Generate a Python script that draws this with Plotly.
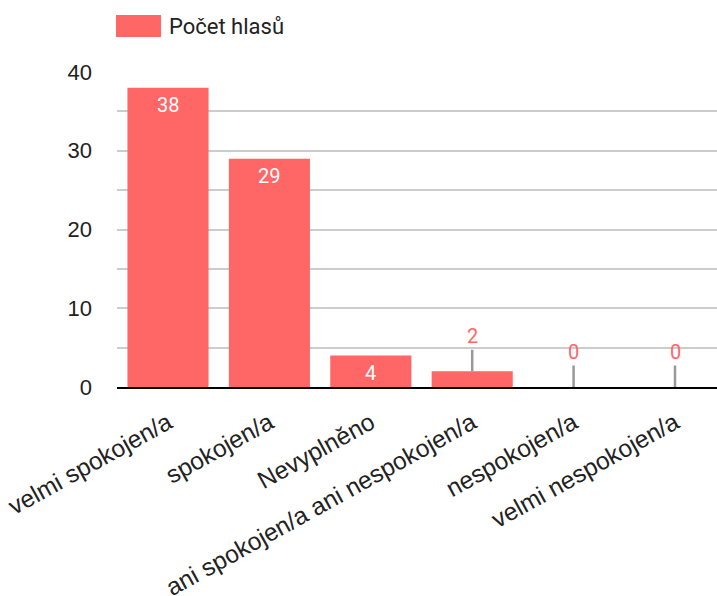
import plotly.graph_objects as go

categories = ["velmi spokojen/a", "spokojen/a", "Nevyplněno",
              "ani spokojen/a ani nespokojen/a", "nespokojen/a", "velmi nespokojen/a"]
votes = [38, 29, 4, 2, 0, 0]
series_name = "Počet hlasů"
y_ticks = [0, 10, 20, 30, 40]

BAR = "#ff6666"
W, H = 717, 596
L, R, T, B = 117, 0, 72, 209
plot_w = W - L - R
plot_h = H - T - B

fig = go.Figure()
fig.add_trace(go.Bar(x=categories, y=votes, name=series_name, marker_color=BAR,
                     marker_line_width=0, showlegend=False, hoverinfo="x+y"))

annotations = []
for c, v in zip(categories, votes):
    if v >= 4:
        annotations.append(dict(x=c, y=v, text=str(v), showarrow=False, xref="x", yref="y",
                                yanchor="top", yshift=-3,
                                font=dict(family="Roboto", size=20, color="white")))
    else:
        annotations.append(dict(x=c, y=v, text=str(v), xref="x", yref="y",
                                showarrow=True, arrowhead=0, arrowwidth=2.5, arrowcolor="#999999",
                                ax=0, ay=-35, standoff=0,
                                font=dict(family="Roboto", size=20, color=BAR)))

# legend drawn as swatch + text
annotations.append(dict(xref="paper", yref="paper", x=(167 - L) / plot_w, y=(H - B - 26) / plot_h,
                        text=series_name, showarrow=False, xanchor="left", yanchor="middle",
                        font=dict(family="Roboto", size=22, color="#222222")))
shapes = [dict(type="rect", xref="paper", yref="paper",
               x0=(116 - L) / plot_w, x1=(161 - L) / plot_w,
               y0=(H - B - 37) / plot_h, y1=(H - B - 15) / plot_h,
               fillcolor=BAR, line_width=0, layer="above")]

px_per_cat = 101.4

fig.update_layout(
    template="none",
    width=W, height=H,
    margin=dict(l=L, r=R, t=T, b=B, pad=0, autoexpand=False),
    paper_bgcolor="white", plot_bgcolor="white",
    bargap=0.2,
    showlegend=False,
    annotations=annotations,
    shapes=shapes,
    xaxis=dict(type="category", categoryarray=categories, categoryorder="array", automargin=False,
               range=[-51 / px_per_cat, -51 / px_per_cat + plot_w / px_per_cat],
               ticks="", showgrid=False, tickangle=-29, ticklabelstandoff=10,
               tickfont=dict(family="Liberation Sans, Arial", size=24.5, color="#222222"),
               showline=True, linecolor="black", linewidth=2, zeroline=False),
    yaxis=dict(range=[0, 40], tickvals=y_ticks, showgrid=True, gridcolor="#cccccc", gridwidth=1.5,
               zeroline=False, ticks="", ticklabelstandoff=24, automargin=False,
               tickfont=dict(family="Liberation Sans, Arial", size=22, color="#222222"),
               minor=dict(dtick=5, tick0=0, showgrid=True, gridcolor="#cccccc", gridwidth=1.5,
                          ticks="")),
)

fig.write_html("out.html", config={"displayModeBar": False},
               post_script="document.body.style.margin='0';document.body.style.overflow='hidden';")
